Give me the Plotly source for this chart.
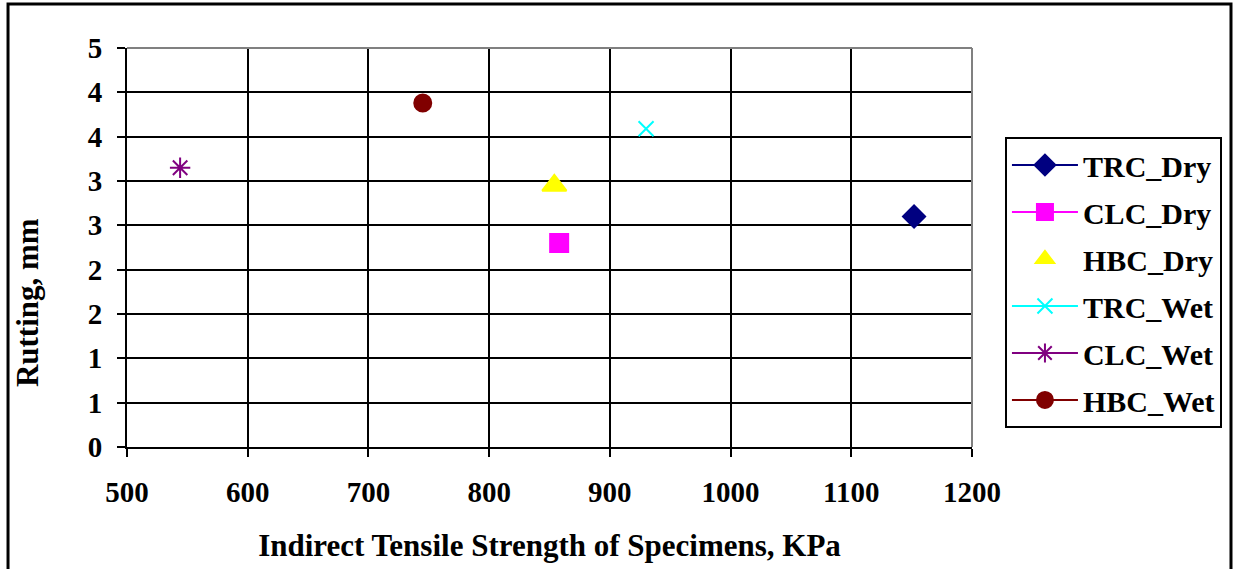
import plotly.graph_objects as go

# Indirect tensile strength (KPa) and rutting depth (mm) per mix / condition
series_names = ["TRC_Dry", "CLC_Dry", "HBC_Dry", "TRC_Wet", "CLC_Wet", "HBC_Wet"]
its_kpa = [1152, 858, 854, 930, 544, 745]
rutting_mm = [2.60, 2.30, 2.95, 3.59, 3.15, 3.88]

# Axis ticks (y labels are rounded to whole numbers on a 0.5 step)
x_ticks = [500, 600, 700, 800, 900, 1000, 1100, 1200]
y_ticks = [0, 0.5, 1, 1.5, 2, 2.5, 3, 3.5, 4, 4.5]
y_tick_text = ["0", "1", "1", "2", "2", "3", "3", "4", "4", "5"]

styles = [
    dict(symbol="diamond", color="#000080", size=17, mode="lines+markers"),
    dict(symbol="square", color="#FF00FF", size=18, mode="lines+markers"),
    dict(symbol="triangle-up", color="#FFFF00", size=21, mode="markers"),
    dict(symbol="x-thin", color="#00FFFF", size=15, mode="lines+markers"),
    dict(symbol="asterisk", color="#800080", size=17, mode="lines+markers"),
    dict(symbol="circle", color="#800000", size=17, mode="lines+markers"),
]

FONT = "Liberation Serif"
TICK_SIZE = 29
TITLE_SIZE = 31

fig = go.Figure()
for name, x, y, st in zip(series_names, its_kpa, rutting_mm, styles):
    fig.add_trace(go.Scatter(
        x=[x], y=[y], name=name, mode=st["mode"], legendgroup=name,
        line=dict(color=st["color"], width=2),
        marker=dict(symbol=st["symbol"], color=st["color"], size=st["size"],
                    line=dict(color=st["color"], width=2)),
    ))

fig.update_layout(
    width=1235, height=569,
    margin=dict(l=127, r=263, t=48, b=122),
    paper_bgcolor="white", plot_bgcolor="white",
    font=dict(family=FONT, size=TICK_SIZE, color="black"),
    showlegend=True,
    legend=dict(
        x=1.039, y=0.777, xanchor="left", yanchor="top",
        bordercolor="black", borderwidth=2, bgcolor="white",
        font=dict(family=FONT, size=30, color="black", weight="bold"),
        tracegroupgap=5, itemwidth=66,
    ),
)

fig.update_xaxes(
    range=[500, 1200], tickvals=x_ticks,
    tickfont=dict(family=FONT, size=TICK_SIZE, weight="bold"),
    ticks="outside", ticklen=8, tickcolor="black", tickwidth=2,
    showgrid=True, gridcolor="black", gridwidth=2,
    showline=True, linecolor="black", linewidth=2, mirror=False,
    zeroline=False, ticklabelstandoff=10,
    title=dict(text="Indirect Tensile Strength of Specimens, KPa",
               font=dict(family=FONT, size=TITLE_SIZE, weight="bold"), standoff=28),
)
fig.update_yaxes(
    range=[0, 4.5], tickvals=y_ticks, ticktext=y_tick_text,
    tickfont=dict(family=FONT, size=TICK_SIZE, weight="bold"),
    ticks="outside", ticklen=8, tickcolor="black", tickwidth=2,
    showgrid=True, gridcolor="black", gridwidth=2,
    showline=True, linecolor="black", linewidth=2,
    zeroline=False, ticklabelstandoff=9,
)

# Y-axis title, placed a little below the middle of the axis
fig.add_annotation(
    text="Rutting, mm", textangle=-90, showarrow=False,
    xref="paper", yref="paper", x=-0.117, y=0.361,
    xanchor="center", yanchor="middle",
    font=dict(family=FONT, size=TITLE_SIZE, weight="bold", color="black"),
)

# Right and top edges of the plot area in grey
fig.add_shape(type="line", xref="paper", yref="paper", x0=0, x1=1, y0=1, y1=1,
              line=dict(color="#808080", width=2))
fig.add_shape(type="line", xref="paper", yref="paper", x0=1, x1=1, y0=0, y1=1,
              line=dict(color="#808080", width=2))
# Chart frame
fig.add_shape(type="rect", xref="paper", yref="paper",
              x0=-0.1408, x1=1.3065, y0=-0.40, y1=1.110,
              line=dict(color="black", width=3), layer="below")

fig.write_html("out.html")
